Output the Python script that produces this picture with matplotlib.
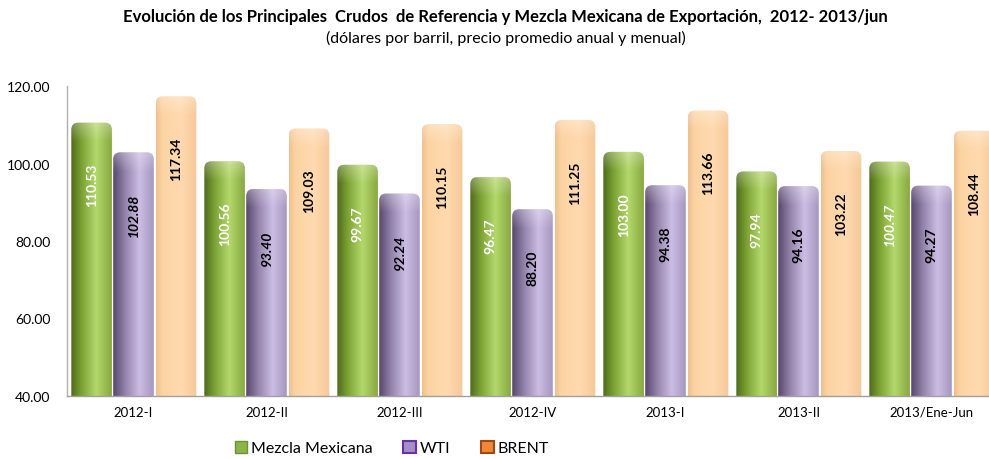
import numpy as np
import matplotlib
matplotlib.use("Agg")
import matplotlib.pyplot as plt
from matplotlib.patches import FancyBboxPatch, Patch
from matplotlib.colors import LinearSegmentedColormap

plt.rcParams["font.family"] = ["Lato", "DejaVu Sans"]

categories = ["2012-I", "2012-II", "2012-III", "2012-IV", "2013-I", "2013-II", "2013/Ene-Jun"]
mezcla = [110.53, 100.56, 99.67, 96.47, 103.00, 97.94, 100.47]
wti = [102.88, 93.40, 92.24, 88.20, 94.38, 94.16, 94.27]
brent = [117.34, 109.03, 110.15, 111.25, 113.66, 103.22, 108.44]
series_names = ["Mezcla Mexicana", "WTI", "BRENT"]
italic_mezcla = [False, False, False, False, False, False, True]
italic_wti = [True, True, True, False, False, False, False]

fig = plt.figure(figsize=(9.89, 4.6), dpi=100)
ax = fig.add_axes([67 / 989, 63 / 460, 931 / 989, 310 / 460])
ax.set_xlim(-0.5, len(categories) - 0.5)
ax.set_ylim(40, 120)

# cylinder-ish horizontal gradients
cmaps = [
    LinearSegmentedColormap.from_list("g", [(0, "#4e6a1a"), (0.25, "#7aa032"), (0.62, "#b4d86c"), (1, "#86a83e")]),
    LinearSegmentedColormap.from_list("p", [(0, "#56466a"), (0.3, "#9484ac"), (0.65, "#cbbde4"), (1, "#a596bf")]),
    LinearSegmentedColormap.from_list("o", [(0, "#eebf8e"), (0.15, "#fcd3a2"), (0.6, "#ffdab0"), (1, "#f6c898")]),
]
hl_cmap = LinearSegmentedColormap.from_list("h", [(0, (1, 1, 1, 0)), (1, (1, 1, 1, 0.3))])
text_colors = ["white", "black", "black"]
grad = np.linspace(0, 1, 256).reshape(1, -1)
fade = np.linspace(1, 0, 64).reshape(-1, 1)

width = 0.305
offsets = [-0.315, 0.0, 0.32]
px_x = 931 / len(categories)
px_y = 310 / 80
rad_x = 7 / px_x
rad_y = 7 / px_y

all_series = [mezcla, wti, brent]
italics = [italic_mezcla, italic_wti, [False] * len(categories)]

for s, vals in enumerate(all_series):
    for i, v in enumerate(vals):
        x0 = i + offsets[s] - width / 2
        patch = FancyBboxPatch((x0, 36), width, v - 36,
                               boxstyle=f"round,pad=0,rounding_size={rad_x}",
                               mutation_aspect=rad_y / rad_x,
                               facecolor="none", edgecolor="none")
        ax.add_patch(patch)
        im = ax.imshow(grad, cmap=cmaps[s], aspect="auto",
                       extent=(x0, x0 + width, 36, v), zorder=2)
        im.set_clip_path(patch)
        # soft highlight near the rounded top
        hl = ax.imshow(fade, cmap=hl_cmap, aspect="auto", origin="upper",
                       extent=(x0, x0 + width, v - 5, v), zorder=3)
        hl.set_clip_path(patch)
        ax.annotate(f"{v:.2f}", xy=(i + offsets[s], v), xytext=(0, -29),
                    textcoords="offset points", rotation=90, ha="center", va="top",
                    fontsize=10, fontweight="bold",
                    fontstyle="italic" if italics[s][i] else "normal",
                    color=text_colors[s], zorder=5)

ax.set_xticks(range(len(categories)))
ax.set_xticklabels(categories, fontsize=9.5)
ax.set_yticks([40, 60, 80, 100, 120])
ax.set_yticklabels([f"{t:.2f}" for t in [40, 60, 80, 100, 120]], fontsize=10)
ax.tick_params(axis="x", length=0, pad=7)
ax.tick_params(axis="y", length=0, pad=12)
for side in ["top", "right"]:
    ax.spines[side].set_visible(False)
ax.spines["left"].set_color("#b0b0b0")
ax.spines["bottom"].set_color("#a0a0a0")
ax.spines["left"].set_linewidth(1.0)
ax.spines["bottom"].set_linewidth(1.0)

fig.text(0.511, 0.962, "Evolución de los Principales  Crudos  de Referencia y Mezcla Mexicana de Exportación,  2012- 2013/jun",
         ha="center", va="center", fontsize=12, fontweight="bold")
fig.text(0.511, 0.916, "(dólares por barril, precio promedio anual y menual)",
         ha="center", va="center", fontsize=11.5)

handles = [
    Patch(facecolor="#8cb448", edgecolor="#6f9038", label=series_names[0]),
    Patch(facecolor="#a68cc8", edgecolor="#6a2fa8", label=series_names[1], linewidth=1.5),
    Patch(facecolor="#f08838", edgecolor="#a04a12", label=series_names[2], linewidth=1.5),
]
fig.legend(handles=handles, loc="center", bbox_to_anchor=(392 / 989, 11 / 460), ncol=3,
           frameon=False, fontsize=11.5, handlelength=0.8, handleheight=0.8,
           handletextpad=0.25, columnspacing=1.9, borderaxespad=0)

fig.savefig("out.png", dpi=100)
